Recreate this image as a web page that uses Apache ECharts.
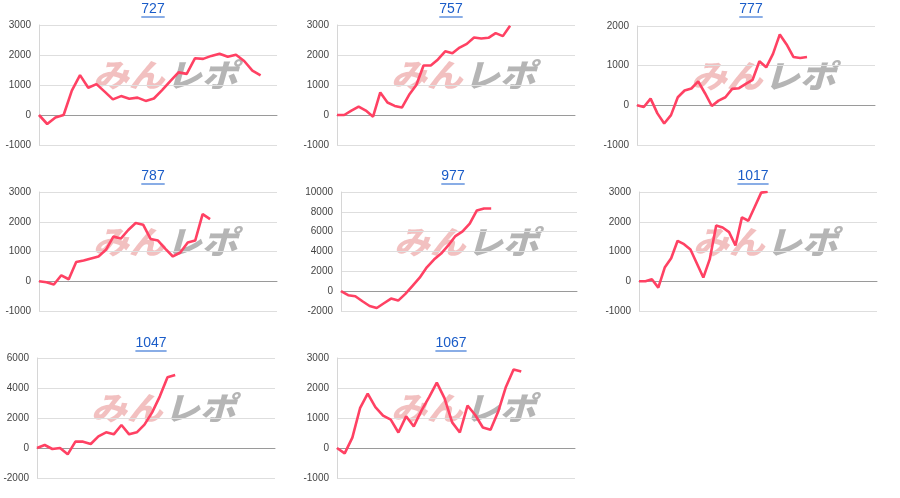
<!DOCTYPE html>
<html><head><meta charset="utf-8">
<script src="https://cdn.jsdelivr.net/npm/echarts@6/dist/echarts.min.js"></script>
<style>html,body{margin:0;padding:0;background:#fff}#c{width:900px;height:498px}</style>
</head><body><div id="c"></div>
<script>
// ---- data ----
const titles = ['727', '757', '777', '787', '977', '1017', '1047', '1067'];
const pointCounts = [30, 34, 36, 33, 34, 38, 32, 32];   // x-axis slots per chart
const yMin = [-1000, -1000, -1000, -1000, -2000, -1000, -2000, -1000];
const yMax = [3000, 3000, 2000, 3000, 10000, 3000, 6000, 3000];
const yStep = [1000, 1000, 1000, 1000, 2000, 1000, 2000, 1000];
const s727 = [0, -300, -80, 0, 810, 1330, 910, 1030, 780, 520, 630, 540, 580, 470, 550, 830, 1130, 1420, 1370, 1890, 1870, 1970, 2040, 1940, 2010, 1800, 1480, 1320];
const s757 = [0, 0, 146, 281, 146, -56, 753, 416, 303, 247, 674, 1000, 1652, 1652, 1854, 2124, 2056, 2247, 2371, 2584, 2551, 2573, 2730, 2629, 2978];
const s777 = [0, -42, 169, -203, -458, -246, 203, 373, 424, 602, 305, -17, 119, 203, 415, 432, 542, 644, 1110, 958, 1297, 1788, 1534, 1220, 1195, 1220];
const s787 = [0, -33, -111, 200, 67, 644, 700, 767, 833, 1056, 1500, 1433, 1722, 1956, 1900, 1422, 1367, 1089, 833, 967, 1300, 1367, 2256, 2089];
const s977 = [0, -407, -508, -1017, -1492, -1695, -1220, -746, -949, -271, 542, 1356, 2407, 3186, 3797, 4610, 5559, 6034, 6814, 8136, 8339, 8339];
const s1017 = [0, 0, 67, -213, 461, 775, 1360, 1247, 1067, 596, 124, 742, 1876, 1809, 1652, 1202, 2146, 2034, 2506, 2978, 3011];
const s1047 = [0, 200, -67, 0, -422, 422, 422, 267, 778, 1044, 911, 1533, 911, 1044, 1556, 2378, 3444, 4711, 4867];
const s1067 = [0, -180, 348, 1326, 1809, 1360, 1079, 944, 517, 1056, 719, 1247, 1697, 2180, 1663, 854, 517, 1416, 1101, 685, 607, 1213, 2034, 2618, 2551];
const seriesData = [s727, s757, s777, s787, s977, s1017, s1047, s1067];

// ---- layout ----
const grids = [
  {left: 39, top: 25, width: 238, height: 120},
  {left: 337, top: 25, width: 238, height: 120},
  {left: 637, top: 26, width: 238, height: 119},
  {left: 39, top: 192, width: 238, height: 119},
  {left: 341, top: 192, width: 236, height: 119},
  {left: 639, top: 192, width: 238, height: 119},
  {left: 37, top: 358, width: 238, height: 120},
  {left: 337, top: 358, width: 238, height: 120}
];
const titleX = [153, 451, 751, 153, 453, 753, 151, 451];
const titleY = [2, 2, 2, 169, 169, 169, 336, 336];

const FONT = '"Liberation Sans", Arial, sans-serif';
const option = {
  animation: false,
  backgroundColor: '#fff',
  title: [], grid: [], xAxis: [], yAxis: [], series: [], graphic: []
};
titles.forEach((t, i) => {
  const g = grids[i];
  option.title.push({
    text: t, left: titleX[i], top: titleY[i], textAlign: 'center', padding: 0,
    textStyle: {fontFamily: FONT, fontSize: 14, fontWeight: 'normal', color: '#1a5cc8'}
  });
  const w = t.length * 7.8;
  option.graphic.push({
    type: 'line', silent: true,
    shape: {x1: titleX[i] - w / 2, y1: titleY[i] + 15, x2: titleX[i] + w / 2, y2: titleY[i] + 15},
    style: {stroke: '#4a80d8', lineWidth: 1.3}
  });
  // watermark
  const cx = g.left + g.width / 2 + 8, cy = g.top + g.height / 2 - 8;
  option.graphic.push({
    type: 'text', silent: true, z: 0, left: cx - 73, top: cy - 18, scaleX: 1.12,
    style: {text: 'みん', font: 'italic 900 32px "Noto Sans CJK JP"', fill: 'rgba(220,90,90,0.38)'}
  });
  option.graphic.push({
    type: 'text', silent: true, z: 0, left: cx + 0, top: cy - 18, scaleX: 1.12,
    style: {text: 'レポ', font: 'italic 900 32px "Noto Sans CJK JP"', fill: 'rgba(120,120,120,0.55)'}
  });
  option.grid.push(Object.assign({containLabel: false}, g));
  const cats = [];
  for (let k = 0; k < pointCounts[i]; k++) cats.push(String(k + 1));
  option.xAxis.push({
    type: 'category', gridIndex: i, data: cats, boundaryGap: false,
    axisLine: {show: true, onZero: true, lineStyle: {color: '#9a9a9a', width: 1}},
    axisTick: {show: false}, axisLabel: {show: false}, splitLine: {show: false}
  });
  option.yAxis.push({
    type: 'value', gridIndex: i, min: yMin[i], max: yMax[i], interval: yStep[i],
    axisLine: {show: true, lineStyle: {color: '#d6d6d6'}},
    axisTick: {show: false},
    axisLabel: {fontFamily: FONT, fontSize: 10, color: '#444', margin: 8, formatter: v => String(v)},
    splitLine: {show: true, lineStyle: {color: '#dedede', width: 1}}
  });
  option.series.push({
    type: 'line', xAxisIndex: i, yAxisIndex: i, data: seriesData[i],
    showSymbol: false, symbol: 'none', z: 5,
    lineStyle: {color: '#ff4163', width: 2.6}, itemStyle: {color: '#ff4163'}
  });
});
const chart = echarts.init(document.getElementById('c'), null, {renderer: 'canvas'});
chart.setOption(option);
</script></body></html>
